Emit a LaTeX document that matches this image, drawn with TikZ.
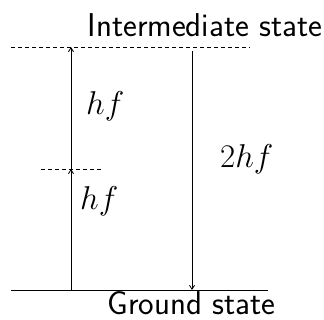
\RequirePackage{fix-cm}
\documentclass[tikz,border=0pt]{standalone}
\usepackage{fontspec}
\usetikzlibrary{arrows.meta}
\begin{document}
\begin{tikzpicture}[x=1pt,y=-1pt,
  level/.style={line width=0.9pt},
  virt/.style={line width=0.8pt,dash pattern=on 4pt off 3pt},
  trans/.style={line width=0.8pt,-{Straight Barb[length=4pt,width=5pt]}},
  lbl/.style={inner sep=0pt,anchor=base west,font=\fontsize{33}{38}\selectfont},
  stlbl/.style={inner sep=0pt,anchor=base,font=\fontsize{33}{38}\selectfont\sffamily}]
\useasboundingbox (0,0) rectangle (324,320);
% levels
\coordinate (tl) at (11,47);
\coordinate (tr) at (250,47);
\coordinate (ml) at (41,169);
\coordinate (mr) at (102,169);
\coordinate (gl) at (11,290);
\coordinate (gr) at (268,290);
\draw[virt] (tl) -- (tr);
\draw[virt] (ml) -- (mr);
\draw[level] (gl) -- (gr);
% transition points
\coordinate (ag) at (71,290);
\coordinate (am) at (71,169);
\coordinate (at) at (71,47);
\coordinate (bt) at (192,51);
\coordinate (bg) at (192,290);
\draw[trans] (ag) -- (am);
\draw[trans] (am) -- (at);
\draw[trans] (bt) -- (bg);
% labels
\node[stlbl] (inter) at (205,37) {Intermediate state};
\node[stlbl] (ground) at (191.5,315) {Ground state};
\node[lbl] (hf1) at (86,115) {$hf$};
\node[lbl] (hf2) at (80,210) {$hf$};
\node[lbl] (hf3) at (220,168) {$2hf$};
\end{tikzpicture}
\end{document}
